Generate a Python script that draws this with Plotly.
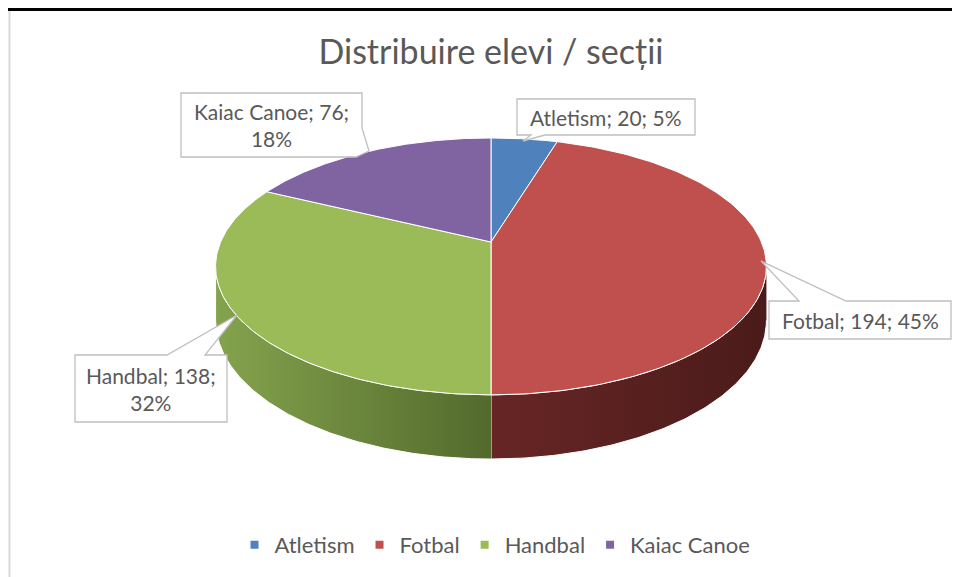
import numpy as np
import plotly.graph_objects as go

# date: elevi pe sectii
sections = ["Atletism", "Fotbal", "Handbal", "Kaiac Canoe"]
students = [20, 194, 138, 76]
wrap_label = [False, False, True, True]

top_colors = ["#4F81BD", "#C0504D", "#9BBB59", "#8064A2"]
side_colors = [
    ("#3d6592", "#2c4a6c"),
    ("#672625", "#4a1b1a"),
    ("#84a34d", "#536a2d"),
    ("#604b7a", "#46375a"),
]

TEXT = "#595959"
FONT = "Lato"
PAGE_OFF = 8  # marginea body din pagina html

# geometrie pie 3D (perspectiva)
CX, CY = 491, 242
RA, RB, K = 270.4, 123.8, 0.19
DROP = 52


def project(theta, drop=0.0):
    X = np.sin(theta)
    Y = -np.cos(theta)
    w = 1 - K * Y
    return CX + RA * X / w, CY + RB * Y / w + drop / w


total = sum(students)
bounds = np.concatenate([[0], np.cumsum(students)]) / total * 2 * np.pi
vis_right = np.arccos(-K)
vis_left = 2 * np.pi - vis_right

fig = go.Figure()

# fetele laterale
for i, name in enumerate(sections):
    a = max(bounds[i], vis_right)
    b = min(bounds[i + 1], vis_left)
    if b <= a:
        continue
    t = np.linspace(a, b, 120)
    xt, yt = project(t)
    xb, yb = project(t[::-1], DROP)
    fig.add_trace(go.Scatter(
        x=np.concatenate([xt, xb]), y=np.concatenate([yt, yb]),
        mode="lines", fill="toself",
        fillgradient=dict(type="horizontal",
                          colorscale=[[0, side_colors[i][0]], [1, side_colors[i][1]]]),
        line=dict(color="white", width=1),
        hoverinfo="skip", showlegend=False,
    ))

# fata de sus
for i, name in enumerate(sections):
    t = np.linspace(bounds[i], bounds[i + 1], 150)
    xs, ys = project(t)
    fig.add_trace(go.Scatter(
        x=np.concatenate([[CX], xs, [CX]]), y=np.concatenate([[CY], ys, [CY]]),
        mode="lines", fill="toself", fillcolor=top_colors[i],
        line=dict(color="white", width=1),
        hoverinfo="skip", showlegend=False,
    ))

# legenda
for i, name in enumerate(sections):
    fig.add_trace(go.Scatter(
        x=[None], y=[None], mode="markers", name=name,
        marker=dict(symbol="square", size=8, color=top_colors[i]),
    ))

# etichete tip callout
callouts = [
    [(517, 99), (695, 99), (695, 135), (545, 135), (523, 141), (531, 135), (517, 135)],
    [(769, 301), (799, 301), (761, 261), (846, 301), (951, 301), (951, 339), (769, 339)],
    [(75, 355), (167, 355), (237, 315), (205, 355), (227, 355), (227, 422), (75, 422)],
    [(181, 93), (362, 93), (362, 128), (369, 151), (356, 157), (181, 157)],
]
label_pos = [(606, 117), (860, 320), (151, 388.5), (271.5, 125)]

shapes = []
annotations = []
for i, name in enumerate(sections):
    pts = callouts[i]
    path = "M " + " L ".join(f"{x},{y}" for x, y in pts) + " Z"
    shapes.append(dict(type="path", path=path, xref="x", yref="y",
                       fillcolor="white", line=dict(color="#bfbfbf", width=1.3),
                       layer="above"))
    pct = round(students[i] / total * 100)
    sep = "<br>" if wrap_label[i] else " "
    txt = f"{name}; {students[i]};{sep}{pct}%"
    annotations.append(dict(x=label_pos[i][0], y=label_pos[i][1], xref="x", yref="y",
                            text=txt, showarrow=False,
                            font=dict(family=FONT, size=21, color=TEXT)))

# chenarul documentului (linia de sus cat de sus se poate)
shapes.append(dict(type="line", xref="x", yref="y", x0=0, x1=970, y0=9.5, y1=9.5,
                   line=dict(color="black", width=3)))
shapes.append(dict(type="line", xref="x", yref="y", x0=9.5, x1=9.5, y0=11, y1=590,
                   line=dict(color="#d9d9d9", width=2)))

fig.update_layout(
    width=960, height=577,
    margin=dict(l=0, r=0, t=0, b=0),
    paper_bgcolor="white", plot_bgcolor="white",
    title=dict(text="Distribuire elevi / secții", x=(491 - PAGE_OFF) / 960, xanchor="center",
               y=1 - (52 - PAGE_OFF) / 577, yanchor="middle",
               font=dict(family=FONT, size=34, color=TEXT)),
    xaxis=dict(range=[PAGE_OFF, 960 + PAGE_OFF], visible=False, fixedrange=True),
    yaxis=dict(range=[577 + PAGE_OFF, PAGE_OFF], visible=False, fixedrange=True),
    showlegend=True,
    legend=dict(orientation="h", x=(495 - PAGE_OFF) / 960, xanchor="center",
                y=1 - (545 - PAGE_OFF) / 577, yanchor="middle",
                font=dict(family=FONT, size=22, color=TEXT)),
    shapes=shapes,
    annotations=annotations,
    hovermode=False,
)

fig.write_html("out.html")
